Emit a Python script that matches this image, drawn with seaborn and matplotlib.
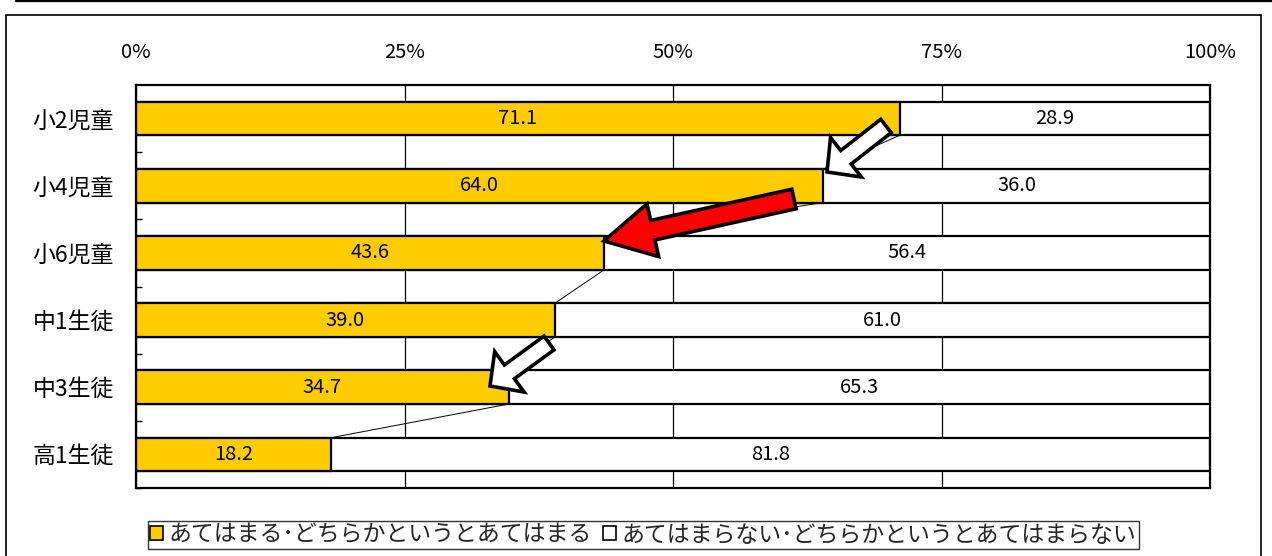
import matplotlib
matplotlib.use('Agg')
import matplotlib.pyplot as plt
from matplotlib.patches import Patch, Rectangle, FancyArrow
from matplotlib.lines import Line2D
from matplotlib.transforms import IdentityTransform
import seaborn as sns
import pandas as pd
import numpy as np

# data
groups = ['小2児童', '小4児童', '小6児童', '中1生徒', '中3生徒', '高1生徒']
yes_vals = [71.1, 64.0, 43.6, 39.0, 34.7, 18.2]
no_vals = [28.9, 36.0, 56.4, 61.0, 65.3, 81.8]
series_names = ['あてはまる･どちらかというとあてはまる',
                'あてはまらない･どちらかというとあてはまらない']
x_ticks = [0, 25, 50, 75, 100]
x_tick_labels = ['0%', '25%', '50%', '75%', '100%']

df = pd.DataFrame({'group': groups, 'yes': yes_vals, 'no': no_vals})
df['total'] = df['yes'] + df['no']

sns.set_theme(style='white')
plt.rcParams['font.family'] = ['Noto Sans CJK JP', 'DejaVu Sans']

W, H = 1272, 556
fig = plt.figure(figsize=(W / 100, H / 100), dpi=100)
fig.patch.set_facecolor('white')

# plot area in pixels: x 136..1210, y 85..488
ax = fig.add_axes([136 / W, 1 - 488 / H, (1210 - 136) / W, (488 - 85) / H])

yellow = '#FFCC00'
sns.barplot(data=df, x='total', y='group', orient='h', color='white',
            edgecolor='black', linewidth=1.6, width=0.5, saturation=1, ax=ax)
sns.barplot(data=df, x='yes', y='group', orient='h', color=yellow,
            edgecolor='black', linewidth=1.6, width=0.5, saturation=1, ax=ax)

ax.set_xlim(0, 100)
ax.set_ylim(len(groups) - 0.5, -0.5)
ax.set_xlabel('')
ax.set_ylabel('')

# gridlines
ax.set_axisbelow(True)
ax.xaxis.grid(True, color='black', linewidth=0.9)
ax.yaxis.grid(False)

ax.xaxis.tick_top()
ax.set_xticks(x_ticks)
ax.set_xticklabels(x_tick_labels, fontsize=14.5)
ax.tick_params(axis='x', length=0, pad=15.5, colors='black')
ax.tick_params(axis='y', which='major', length=0, pad=16, labelsize=16.5,
               colors='black')
ax.set_yticks(np.arange(len(groups)) + 0.5, minor=True)
ax.tick_params(axis='y', which='minor', direction='in', length=4.5, width=1,
               color='black', left=True)

for s in ax.spines.values():
    s.set_color('black')
    s.set_linewidth(1.6)

# value labels
for i, (y, n) in enumerate(zip(yes_vals, no_vals)):
    ax.text(y / 2, i, f'{y:.1f}', ha='center', va='center', fontsize=14.5,
            color='black')
    ax.text(y + n / 2, i, f'{n:.1f}', ha='center', va='center', fontsize=14.5,
            color='black')

# series lines between yellow bar ends
for i in range(len(yes_vals) - 1):
    ax.plot([yes_vals[i], yes_vals[i + 1]], [i + 0.25, i + 1 - 0.25],
            color='black', linewidth=0.7, zorder=1.5)


# arrows in image pixel coordinates
def px_arrow(x0, y0, x1, y1, width, head_w, head_l, fc):
    dx, dy = x1 - x0, -(y1 - y0)
    a = FancyArrow(x0, H - y0, dx, dy, width=width, head_width=head_w,
                   head_length=head_l, length_includes_head=True,
                   facecolor=fc, edgecolor='black', linewidth=2.6,
                   transform=IdentityTransform(), zorder=10)
    fig.add_artist(a)


px_arrow(886, 126, 827, 172, 17, 50, 24, 'white')
px_arrow(794, 199, 604, 241, 20, 54, 50, '#FF0000')
px_arrow(549, 343, 490, 386, 17, 50, 24, 'white')

# legend
handles = [Patch(facecolor=yellow, edgecolor='black', linewidth=1.2),
           Patch(facecolor='white', edgecolor='black', linewidth=1.2)]
leg = fig.legend(handles, series_names, loc='center', ncol=2,
                 bbox_to_anchor=((152 + 1135) / 2 / W, 1 - 535 / H),
                 fontsize=16.5, frameon=True, fancybox=False, shadow=False,
                 handlelength=0.55, handleheight=0.55, handletextpad=0.25,
                 columnspacing=0.5, borderpad=0.12, borderaxespad=0)
leg.get_frame().set_edgecolor('black')
leg.get_frame().set_linewidth(1.0)

# outer frame and top rule
fig.add_artist(Rectangle((6 / W, -0.05), (1261 - 6) / W, 1.05 - 15 / H,
                         transform=fig.transFigure, fill=False,
                         edgecolor='black', linewidth=1.2))
fig.add_artist(Line2D([16 / W, 1.0], [1 - 1 / H, 1 - 1 / H],
                      transform=fig.transFigure, color='black', linewidth=1.6))

fig.savefig('out.png', dpi=100)
